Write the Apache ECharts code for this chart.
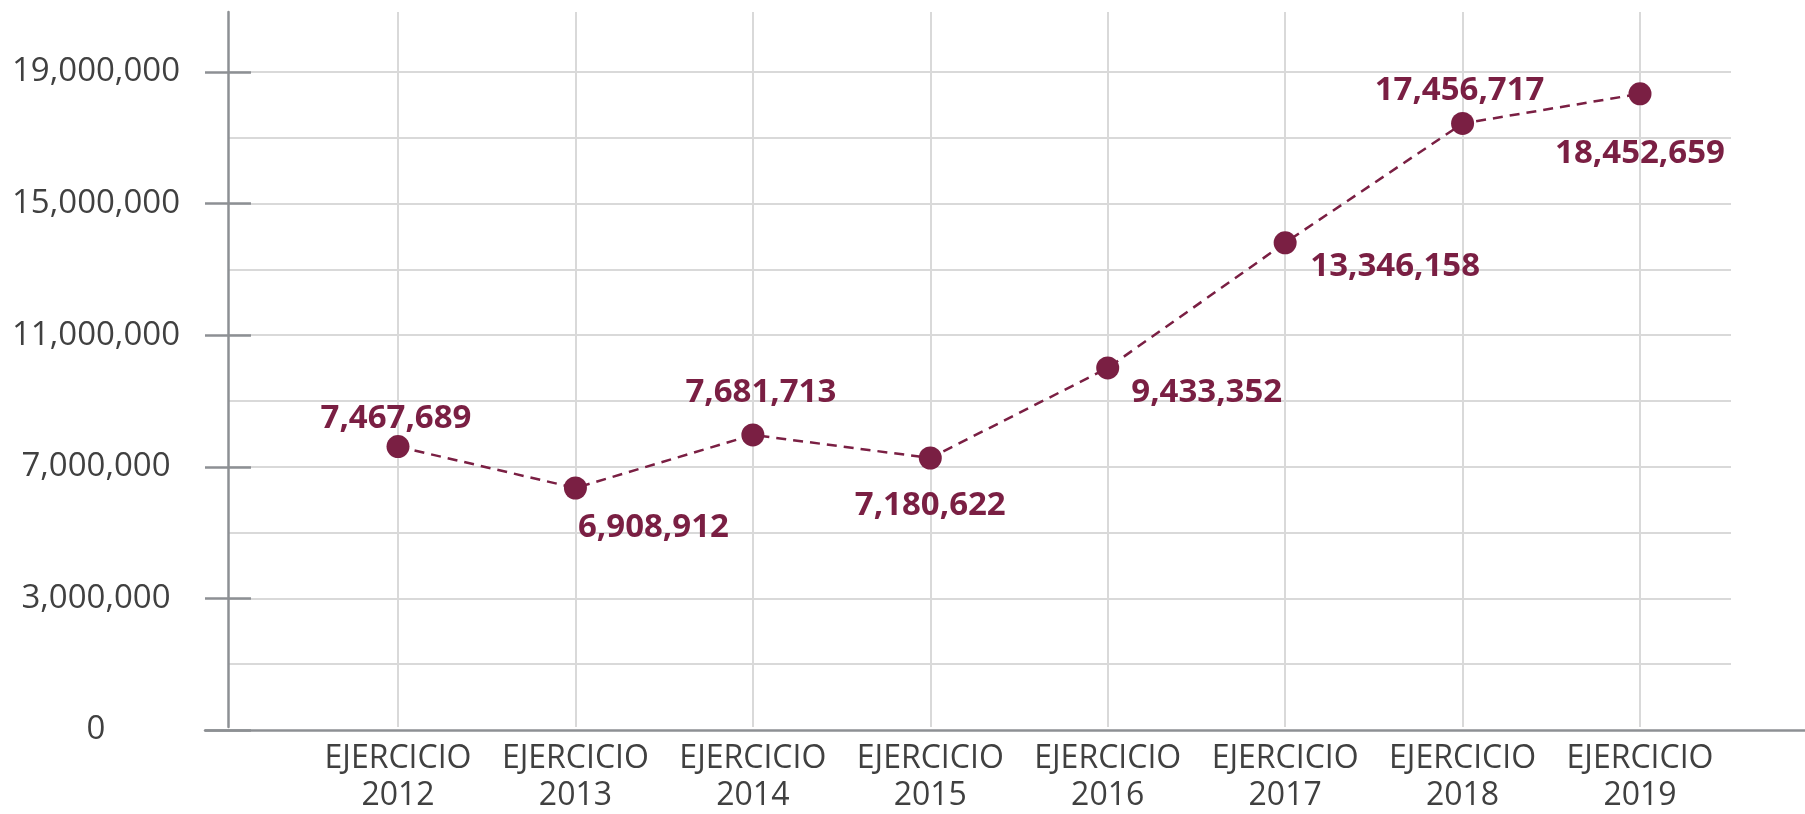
<!DOCTYPE html>
<html>
<head>
<meta charset="utf-8">
<title>Ejercicios 2012-2019</title>
<script src="https://cdn.jsdelivr.net/npm/echarts@6/dist/echarts.min.js"></script>
<style>
  html, body { margin: 0; padding: 0; background: #fff; }
  #chart { width: 1805px; height: 814px; }
</style>
</head>
<body>
<div id="chart"></div>
<script>
// ejercicios
var years = ['2012', '2013', '2014', '2015', '2016', '2017', '2018', '2019'];
// importes impresos junto a cada punto
var totals = [7467689, 6908912, 7681713, 7180622, 9433352, 13346158, 17456717, 18452659];
// altura a la que está dibujado cada punto, leída contra el eje
var plotted = [8130000, 6930000, 8470000, 7800000, 10410000, 14040000, 17500000, 18360000];
// etiquetas del eje y (una cada 3.8 M)
var yTickLabels = ['0', '3,000,000', '7,000,000', '11,000,000', '15,000,000', '19,000,000'];
var yStep = 3800000;
var yTop = 19000000;

var granate = '#7a1f43';
var gris = '#8d9094';
var rejilla = '#d9d9d9';
var texto = '#404040';

// donde va cada etiqueta respecto a su punto [dx, dy]
var labelOffsets = [[-2, -28], [78, 40], [8, -42], [0, 48], [99, 25], [110, 24], [-3, -33], [0, 60]];

var H = 814;
var bottom = 84;
var axisX = 228;      // línea del eje y
var topLabeled = 72;  // línea de 19,000,000
var topPlot = 12;
var plotLeft = 398, plotRight = 165;

var chart = echarts.init(document.getElementById('chart'));

chart.setOption({
  animation: false,
  textStyle: { fontFamily: 'Open Sans' },
  grid: [
    // rejilla horizontal y etiquetas del eje y
    { left: axisX, right: 74, top: topLabeled, bottom: bottom },
    // puntos y años
    { left: plotLeft, right: plotRight, top: topPlot, bottom: bottom },
    // línea del eje x, de punta a punta
    { left: 205, right: 0, top: topPlot, bottom: bottom }
  ],
  xAxis: [
    { type: 'value', gridIndex: 0, show: false },
    {
      type: 'category',
      gridIndex: 1,
      data: years,
      boundaryGap: false,
      axisLine: { show: false },
      axisTick: { show: false, interval: 0 },
      axisLabel: {
        interval: 0,
        margin: 13,
        fontSize: 32,
        lineHeight: 37,
        color: texto,
        formatter: function (v) { return 'EJERCICIO\n' + v; }
      },
      splitLine: { show: true, interval: 0, lineStyle: { color: rejilla, width: 2 } }
    },
    {
      type: 'value',
      gridIndex: 2,
      min: 0,
      max: 1,
      axisLine: { show: true, onZero: false, lineStyle: { color: gris, width: 2.5 } },
      axisTick: { show: false },
      axisLabel: { show: false },
      splitLine: { show: false }
    }
  ],
  yAxis: [
    {
      type: 'value',
      gridIndex: 0,
      position: 'left',
      min: 0,
      max: yTop,
      interval: yStep,
      axisLine: { show: false },
      axisTick: { show: true, length: 23, lineStyle: { color: gris, width: 2.5 } },
      axisLabel: {
        fontSize: 33,
        color: texto,
        align: 'center',
        margin: 132,
        formatter: function (v) { return yTickLabels[Math.round(v / yStep)]; }
      },
      splitLine: { show: true, showMinLine: false, lineStyle: { color: rejilla, width: 2 } },
      minorTick: { show: false, splitNumber: 2 },
      minorSplitLine: { show: true, lineStyle: { color: rejilla, width: 2 } }
    },
    {
      // la otra mitad de las marcas, hacia dentro
      type: 'value',
      gridIndex: 0,
      position: 'left',
      min: 0,
      max: yTop,
      interval: yStep,
      axisLine: { show: false },
      axisTick: { show: true, inside: true, length: 23, lineStyle: { color: gris, width: 2.5 } },
      axisLabel: { show: false },
      splitLine: { show: false }
    },
    {
      type: 'value',
      gridIndex: 1,
      position: 'left',
      offset: plotLeft - axisX,
      min: 0,
      max: yTop * (H - bottom - topPlot) / (H - bottom - topLabeled),
      axisLine: { show: true, lineStyle: { color: gris, width: 2.5 } },
      axisTick: { show: false },
      axisLabel: { show: false },
      splitLine: { show: false }
    },
    { type: 'value', gridIndex: 2, show: false }
  ],
  series: [
    {
      type: 'line',
      xAxisIndex: 1,
      yAxisIndex: 2,
      data: plotted.map(function (v, i) {
        return { value: v, label: { offset: labelOffsets[i] } };
      }),
      symbol: 'circle',
      symbolSize: 23,
      showAllSymbol: true,
      itemStyle: { color: granate },
      lineStyle: { color: granate, width: 2.5, type: [10, 7] },
      label: {
        show: true,
        position: 'inside',
        align: 'center',
        verticalAlign: 'middle',
        fontSize: 33,
        fontWeight: 'bold',
        color: granate,
        formatter: function (p) { return totals[p.dataIndex].toLocaleString('en-US'); }
      }
    }
  ]
});
</script>
</body>
</html>
